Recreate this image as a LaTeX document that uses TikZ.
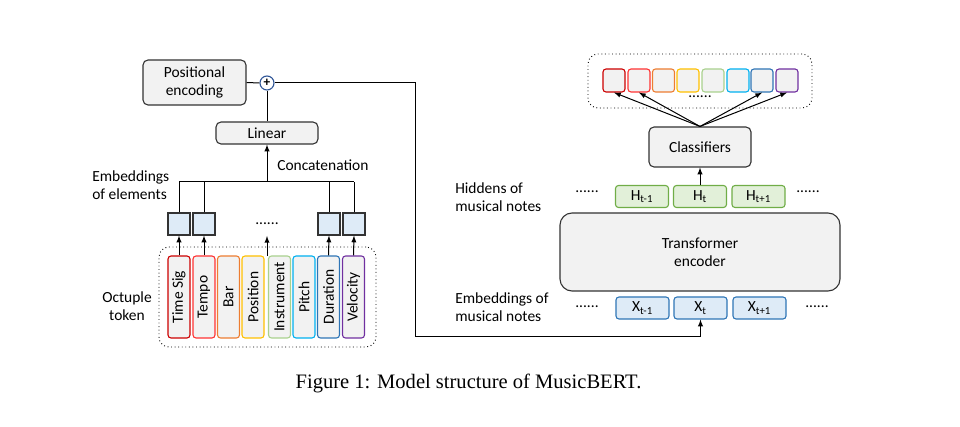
\documentclass[tikz,border=0pt]{standalone}
\usepackage{fontspec}
\setmainfont{Carlito}
\newfontfamily\capfont{Liberation Serif}
\usetikzlibrary{arrows}

\newlength{\du}
\setlength{\du}{0.75pt}

\definecolor{boxline}{rgb}{0.200000, 0.200000, 0.200000}
\definecolor{boxfill}{rgb}{0.949000, 0.949000, 0.949000}
\definecolor{embfill}{rgb}{0.870000, 0.922000, 0.969000}
\definecolor{plusline}{rgb}{0.184000, 0.333000, 0.592000}
\definecolor{colts}{rgb}{0.800000, 0.000000, 0.000000}
\definecolor{colte}{rgb}{1.000000, 0.200000, 0.200000}
\definecolor{colba}{rgb}{0.929000, 0.490000, 0.192000}
\definecolor{colpo}{rgb}{1.000000, 0.753000, 0.000000}
\definecolor{colin}{rgb}{0.663000, 0.820000, 0.557000}
\definecolor{colpi}{rgb}{0.000000, 0.690000, 0.941000}
\definecolor{coldu}{rgb}{0.180000, 0.459000, 0.714000}
\definecolor{colve}{rgb}{0.439000, 0.188000, 0.627000}
\definecolor{hidline}{rgb}{0.439000, 0.678000, 0.278000}
\definecolor{hidfill}{rgb}{0.886000, 0.941000, 0.851000}

\tikzset{
  box/.style={draw=boxline, fill=boxfill, rounded corners=5\du, line width=1.1\du, inner sep=0pt, align=center},
  tokbox/.style={draw=#1, fill=boxfill, rounded corners=3\du, line width=1.1\du, inner sep=0pt, minimum width=82\du, minimum height=22\du, rotate=90},
  outbox/.style={draw=#1, fill=boxfill, rounded corners=3\du, line width=1.1\du, inner sep=0pt, minimum width=22\du, minimum height=23\du},
  embbox/.style={draw=boxline, fill=embfill, line width=1.1\du, inner sep=0pt, minimum size=22\du},
  notebox/.style={draw=#1, rounded corners=3\du, line width=1.1\du, inner sep=0pt, minimum width=53\du, minimum height=22\du},
  groupbox/.style={draw=black, dotted, rounded corners=10\du, line width=0.9\du},
  wire/.style={draw=black, line width=1\du},
  arr/.style={wire, -latex},
  lbl/.style={align=left, anchor=west, inner sep=0pt},
}

\begin{document}
\begin{tikzpicture}[x=1\du, y=-1\du, font=\fontsize{11.6}{13.5}\selectfont]
\useasboundingbox (0,0) rectangle (960,427);

% left part: octuple token
\node[groupbox, minimum width=217\du, minimum height=100\du] (tokgroup) at (267.5,297) {};
\node[tokbox=colts] (tsig) at (179,297) {Time Sig};
\node[tokbox=colte] (tempo) at (204,297) {Tempo};
\node[tokbox=colba] (bar) at (228.5,297) {Bar};
\node[tokbox=colpo] (pos) at (253,297) {Position};
\node[tokbox=colin] (instr) at (279.5,297) {Instrument};
\node[tokbox=colpi] (pitch) at (304,297) {Pitch};
\node[tokbox=coldu] (dur) at (328.5,297) {Duration};
\node[tokbox=colve] (vel) at (353.5,297) {Velocity};
\node[align=center] (octlbl) at (127,306) {Octuple\\token};

\node[embbox] (etsig) at (179,224) {};
\node[embbox] (etempo) at (204,224) {};
\node[embbox] (edur) at (329,224) {};
\node[embbox] (evel) at (354,224) {};
\node (edots) at (267,224) {......};
\coordinate (midtok) at (267,256);
\coordinate (midemb) at (267,236);

\draw[arr] (tsig.east) -- (etsig.south);
\draw[arr] (tempo.east) -- (etempo.south);
\draw[arr] (dur.east) -- (edur.south);
\draw[arr] (vel.east) -- (evel.south);
\draw[arr] (midtok) -- (midemb);

\node[lbl] (emblbl) at (92,185) {Embeddings\\of elements};

\coordinate (barl) at (179,182);
\coordinate (barm) at (267,182);
\coordinate (barr) at (354,182);
\draw[wire] (barl) -- (barr);
\draw[wire] (etsig.north) -- (barl);
\draw[wire] (etempo.north) -- (etempo.north |- barm);
\draw[wire] (edur.north) -- (edur.north |- barm);
\draw[wire] (evel.north) -- (barr);

\node[box, minimum width=102\du, minimum height=22\du] (linear) at (267,133) {Linear};
\draw[arr] (barm) -- (linear.south);
\node[lbl] (concat) at (277,165) {Concatenation};

\node[box, minimum width=103\du, minimum height=45\du] (posenc) at (194.5,82.5) {Positional\\encoding};
\node[circle, draw=plusline, fill=white, line width=1.1\du, inner sep=0pt, minimum size=14\du, font=\fontsize{10}{10}\selectfont\bfseries] (plus) at (267,83) {+};
\draw[wire] (posenc.east) -- (plus.west);
\draw[wire] (linear.north) -- (plus.south);

% right part: encoder
\node[notebox=coldu, fill=embfill] (xprev) at (642.5,308) {X\textsubscript{t-1}};
\node[notebox=coldu, fill=embfill] (xcur) at (700.5,308) {X\textsubscript{t}};
\node[notebox=coldu, fill=embfill] (xnext) at (759.5,308) {X\textsubscript{t+1}};
\node (xdotsl) at (587,307) {......};
\node (xdotsr) at (817,307) {......};
\node[lbl] (xlbl) at (455,307) {Embeddings of\\musical notes};

\coordinate (turnA) at (415,83);
\coordinate (turnB) at (415,337);
\draw[wire, -latex] (plus.east) -- (turnA) -- (turnB) -- (xcur.south |- turnB) -- (xcur.south);

\node[box, rounded corners=12\du, minimum width=280\du, minimum height=78\du] (encoder) at (700,252) {Transformer\\encoder};

\node[notebox=hidline, fill=hidfill] (hprev) at (642,196.5) {H\textsubscript{t-1}};
\node[notebox=hidline, fill=hidfill] (hcur) at (700,196.5) {H\textsubscript{t}};
\node[notebox=hidline, fill=hidfill] (hnext) at (758.5,196.5) {H\textsubscript{t+1}};
\node (hdotsl) at (587,192) {......};
\node (hdotsr) at (808,192) {......};
\node[lbl] (hlbl) at (455,197) {Hiddens of\\musical notes};

\node[box, minimum width=102\du, minimum height=40\du] (classif) at (700,147) {Classifiers};
\draw[arr] (hcur.north) -- (classif.south);

\node[groupbox, minimum width=224\du, minimum height=54\du] (outgroup) at (700,81) {};
\node[outbox=colts] (ots) at (614,80.5) {};
\node[outbox=colte] (ote) at (639,80.5) {};
\node[outbox=colba] (oba) at (663.5,80.5) {};
\node[outbox=colpo] (opo) at (688,80.5) {};
\node[outbox=colin] (oin) at (713,80.5) {};
\node[outbox=colpi] (opi) at (738,80.5) {};
\node[outbox=coldu] (odu) at (762,80.5) {};
\node[outbox=colve] (ove) at (787,80.5) {};
\node (odots) at (700,97) {......};

\draw[arr] (classif.north) -- (ots.south);
\draw[arr] (classif.north) -- (ote.south);
\draw[arr] (classif.north) -- (odu.south);
\draw[arr] (classif.north) -- (ove.south);

\node[font=\capfont\fontsize{15.4}{18}\selectfont] (caption) at (468.5,383) {Figure 1: Model structure of MusicBERT.};
\end{tikzpicture}
\end{document}
